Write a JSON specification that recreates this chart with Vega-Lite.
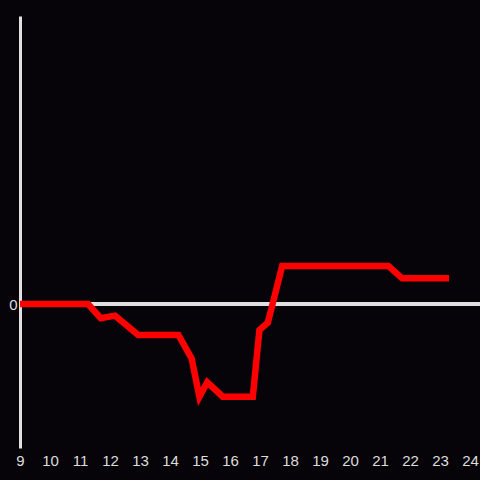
{
  "$schema": "https://vega.github.io/schema/vega-lite/v6.json",
  "width": 460,
  "height": 432,
  "autosize": {"type": "none"},
  "padding": {"left": 20, "top": 16, "right": 0, "bottom": 32},
  "background": "#060408",
  "config": {"view": {"stroke": null}},
  "data": {"values": [
    {"t": 9, "v": 0},
    {"t": 11.27, "v": 0},
    {"t": 11.69, "v": -0.099},
    {"t": 12.17, "v": -0.081},
    {"t": 12.94, "v": -0.215},
    {"t": 14.28, "v": -0.215},
    {"t": 14.72, "v": -0.377},
    {"t": 14.98, "v": -0.644},
    {"t": 15.24, "v": -0.544},
    {"t": 15.76, "v": -0.644},
    {"t": 16.76, "v": -0.644},
    {"t": 16.98, "v": -0.181},
    {"t": 17.26, "v": -0.13},
    {"t": 17.74, "v": 0.264},
    {"t": 21.28, "v": 0.264},
    {"t": 21.74, "v": 0.178},
    {"t": 23.3, "v": 0.178}
  ]},
  "layer": [
    {
      "mark": {"type": "rule", "color": "#e0e0e0", "strokeWidth": 3},
      "encoding": {"y": {"datum": 0, "type": "quantitative", "scale": {"domain": [-1, 2]}}}
    },
    {
      "mark": {"type": "line", "color": "#ff0000", "strokeWidth": 6.5, "strokeJoin": "miter"},
      "encoding": {
        "x": {"field": "t", "type": "quantitative", "scale": {"domain": [9, 24.333], "nice": false, "zero": false},
          "axis": {"title": null, "values": [9,10,11,12,13,14,15,16,17,18,19,20,21,22,23,24], "format": "d", "domain": false, "ticks": false, "grid": false, "labelColor": "#dddddd", "labelFontSize": 15, "labelFont": "Liberation Sans", "labelPadding": 5, "labelFlush": false}},
        "y": {"field": "v", "type": "quantitative", "scale": {"domain": [-1, 2], "nice": false},
          "axis": {"title": null, "values": [0], "format": "d", "domain": true, "domainColor": "#e0e0e0", "domainWidth": 3, "ticks": false, "grid": false, "labelColor": "#dddddd", "labelFontSize": 15, "labelFont": "Liberation Sans", "labelPadding": 3}}
      }
    }
  ]
}
